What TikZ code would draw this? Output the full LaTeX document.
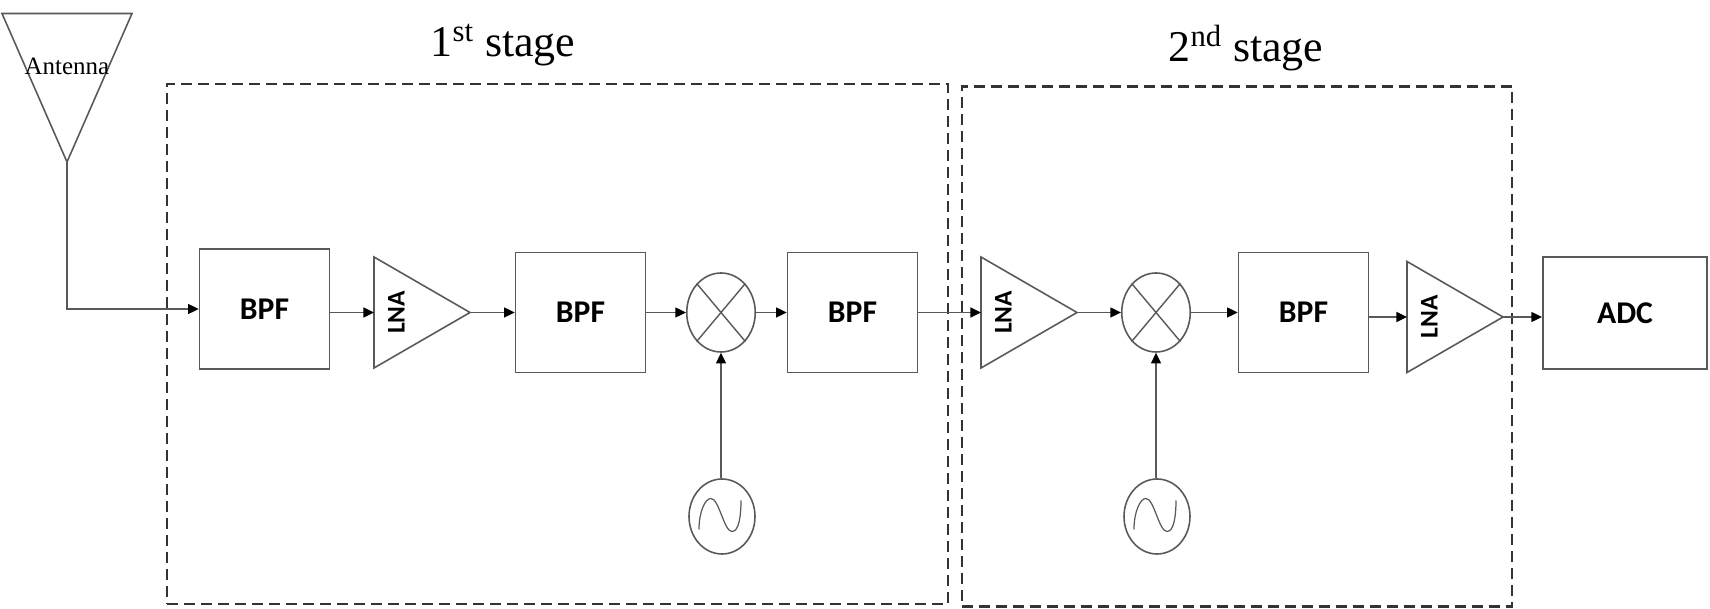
\documentclass[tikz,border=0pt]{standalone}
\usepackage{fontspec}
\setmainfont{Liberation Serif}
\newfontfamily\blockfont{Carlito}
\usetikzlibrary{shapes.geometric,positioning,arrows.meta}
\colorlet{wire}{black!65}
\tikzset{bpf/.style={rectangle,draw=wire,line width=0.9pt,minimum width=2.6cm,minimum height=2.4cm,font=\blockfont\bfseries\fontsize{18}{20}\selectfont}}
\tikzset{lna/.style={isosceles triangle,isosceles triangle stretches,draw=wire,line width=0.9pt,inner sep=0pt,outer sep=0pt,minimum width=2.22cm,minimum height=1.92cm,anchor=lower side,font=\blockfont\bfseries\fontsize{14.5}{16}\selectfont}}
\tikzset{mix/.style={ellipse,draw=wire,line width=0.9pt,inner sep=0pt,minimum width=1.37cm,minimum height=1.58cm}}
\tikzset{osc/.style={ellipse,draw=wire,line width=0.9pt,inner sep=0pt,minimum width=1.32cm,minimum height=1.5cm}}
\tikzset{stagebox/.style={rectangle,draw=black!80,line width=1.15pt,dash pattern=on 0.22cm off 0.12cm,inner sep=0pt}}
\tikzset{stagename/.style={anchor=base,inner sep=0pt,font=\fontsize{25}{28}\selectfont}}
\tikzset{conn/.style={->,draw=wire,line width=0.9pt}}
\begin{document}
\begin{tikzpicture}[>={Stealth[length=6pt,width=5.6pt,inset=0pt,color=black]}]
    \useasboundingbox (0,0) rectangle (34.2,12.18);

    \node[stagebox,minimum width=15.62cm,minimum height=10.4cm] (box1) at (11.15,5.3) {};
    \node[stagebox,minimum width=11.01cm,minimum height=10.4cm] (box2) at (24.735,5.25) {};
    \node[stagename] (name1) at (10.06,11.04) {1\textsuperscript{st} stage};
    \node[stagename] (name2) at (24.92,10.94) {2\textsuperscript{nd} stage};

    \node[isosceles triangle,isosceles triangle stretches,shape border rotate=270,draw=wire,line width=0.9pt,inner sep=0pt,outer sep=0pt,minimum width=2.6cm,minimum height=2.97cm,anchor=apex] (ant) at (1.34,8.94) {};
    \node[inner sep=0pt,font=\fontsize{14.2}{16}\selectfont] (anttext) at (1.34,10.86) {Antenna};

    \node[bpf] (bpf1) at (5.29,6) {BPF};
    \node[lna] (lna1) at (7.48,5.93) {\rotatebox{90}{LNA}};
    \node[bpf] (bpf2) at (11.61,5.93) {BPF};
    \node[mix] (mix1) at (14.42,5.93) {};
    \node[bpf] (bpf3) at (17.05,5.93) {BPF};
    \node[osc] (osc1) at (14.44,1.85) {};
    \node[lna] (lna2) at (19.62,5.93) {\rotatebox{90}{LNA}};
    \node[mix] (mix2) at (23.12,5.93) {};
    \node[bpf] (bpf4) at (26.07,5.93) {BPF};
    \node[osc] (osc2) at (23.14,1.85) {};
    \node[lna] (lna3) at (28.14,5.84) {\rotatebox{90}{LNA}};
    \node[bpf,minimum width=3.29cm,minimum height=2.24cm] (adc) at (32.5,5.92) {ADC};

    \foreach \m in {mix1,mix2} {
        \draw [wire,line width=0.8pt] (\m.130) -- (\m.310);
        \draw [wire,line width=0.8pt] (\m.50) -- (\m.230);
    }
    \foreach \o in {osc1,osc2} {
        \draw [wire,line width=0.7pt] ([shift={(-.46,-.26)}]\o.center) .. controls +(0,.35) and +(-.12,0) .. ([shift={(-.22,.36)}]\o.center) .. controls +(.16,0) and +(-.16,0) .. ([shift={(.2,-.3)}]\o.center) .. controls +(.14,0) and +(0,-.3) .. ([shift={(.38,.32)}]\o.center);
    }

    \draw [conn] (ant.apex) |- (bpf1.west);
    \draw [conn] (bpf1.east |- lna1.apex) -- (lna1.lower side);
    \draw [conn] (lna1.apex) -- (bpf2.west);
    \draw [conn] (bpf2.east) -- (mix1.west);
    \draw [conn] (mix1.east) -- (bpf3.west);
    \draw [conn] (osc1.north -| mix1.south) -- (mix1.south);
    \draw [conn] (bpf3.east) -- (lna2.lower side);
    \draw [conn] (lna2.apex) -- (mix2.west);
    \draw [conn] (mix2.east) -- (bpf4.west);
    \draw [conn] (osc2.north -| mix2.south) -- (mix2.south);
    \draw [conn] (bpf4.east |- lna3.apex) -- (lna3.lower side);
    \draw [conn] (lna3.apex) -- (adc.west |- lna3.apex);
\end{tikzpicture}
\end{document}
